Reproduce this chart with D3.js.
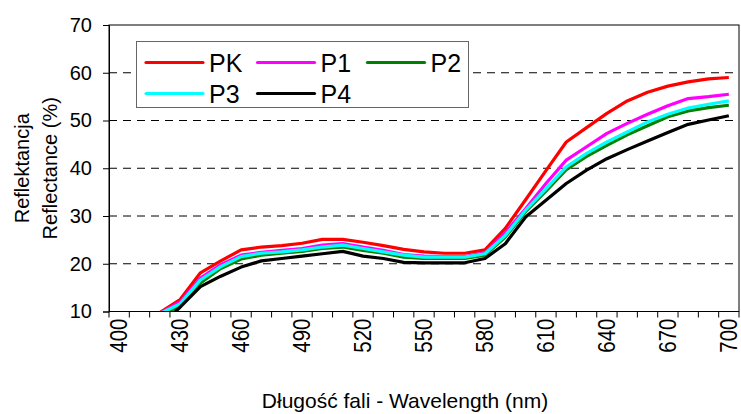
<!DOCTYPE html>
<html><head><meta charset="utf-8">
<script src="https://cdn.jsdelivr.net/npm/d3@7"></script>
<style>body{margin:0;background:#fff}svg{display:block}text{font-family:"Liberation Sans",Arial,sans-serif}</style>
</head><body><svg id="c" width="741" height="414"></svg>
<script>
const wavelengths = [400,410,420,430,440,450,460,470,480,490,500,510,520,530,540,550,560,570,580,590,600,610,620,630,640,650,660,670,680,690,700];
const labelTicks = [400,430,460,490,520,550,580,610,640,670,700];
const yTicks = [10,20,30,40,50,60,70];
const seriesNames = ["PK","P1","P2","P3","P4"];
const seriesColors = ["#ff0000","#ff00ff","#008000","#00ffff","#000000"];
const PK = [7.0,8.2,9.77,12.5,18.1,20.6,22.9,23.5,23.8,24.3,25.1,25.1,24.5,23.8,23.0,22.5,22.2,22.2,22.9,27.4,33.4,39.5,45.5,48.5,51.5,54.1,55.9,57.2,58.1,58.7,59.0];
const P1 = [6.8,8.0,9.62,12.0,17.0,19.8,21.8,22.4,22.8,23.2,23.9,24.2,23.5,22.8,21.9,21.6,21.5,21.5,22.3,26.5,31.5,36.8,41.7,44.5,47.3,49.4,51.3,53.1,54.6,55.0,55.5];
const P2 = [6.5,7.6,9.14,11.2,16.0,19.0,21.0,21.8,22.2,22.6,23.2,23.5,22.8,22.2,21.4,21.1,21.1,21.1,21.8,25.6,30.9,35.2,39.7,42.5,44.8,47.0,48.9,50.8,52.0,52.7,53.2];
const P3 = [6.7,7.9,9.55,11.6,16.6,19.4,21.5,22.2,22.5,22.9,23.5,23.9,23.2,22.5,21.8,21.4,21.4,21.4,22.1,25.9,31.2,35.7,40.3,43.1,45.5,47.6,49.7,51.3,52.6,53.4,54.1];
const P4 = [5.5,6.2,7.0,10.9,15.2,17.4,19.3,20.6,21.1,21.6,22.1,22.6,21.6,21.1,20.3,20.2,20.2,20.2,21.1,24.2,29.8,33.3,36.8,39.6,42.0,43.9,45.7,47.5,49.2,50.1,51.0];
const seriesValues = [PK,P1,P2,P3,P4];

const svg = d3.select("#c");
const L=109, R=739, T=25, B=311.5;
const x = d3.scaleBand().domain(wavelengths).range([L,R]).padding(0);
const bw = x.bandwidth();
const cx = d => x(d)+bw/2;
const y = d3.scaleLinear().domain([10,70]).range([B,T]);

// gridlines
svg.append("g").selectAll("line").data(yTicks.filter(v=>v>10&&v<70)).join("line")
  .attr("x1",L).attr("x2",R).attr("y1",d=>y(d)).attr("y2",d=>y(d))
  .attr("stroke","#000").attr("stroke-width",1).attr("stroke-dasharray","8,6");

// clip
svg.append("clipPath").attr("id","pc").append("rect").attr("x",L).attr("y",T).attr("width",R-L).attr("height",B-T);

const line = d3.line().x((d,i)=>cx(wavelengths[i])).y(d=>y(d));
const lg = svg.append("g").attr("clip-path","url(#pc)");
seriesValues.forEach((vals,k)=>{
  lg.append("path").attr("d",line(vals)).attr("fill","none")
    .attr("stroke",seriesColors[k]).attr("stroke-width",3.2).attr("stroke-linejoin","round");
});

// plot border
svg.append("rect").attr("x",L).attr("y",T).attr("width",R-L).attr("height",B-T)
  .attr("fill","none").attr("stroke","#000").attr("stroke-width",1);

// y axis
const ya = svg.append("g").attr("transform",`translate(${L},0)`)
  .call(d3.axisLeft(y).tickValues(yTicks).tickSize(6).tickPadding(11));
ya.select(".domain").attr("stroke","#000");
ya.selectAll("text").attr("font-size",20).attr("fill","#000").style("font-family","Liberation Sans, Arial, sans-serif");

// x axis boundary ticks
const bounds = wavelengths.map(w=>x(w)).concat([R]);
svg.append("g").selectAll("line").data(bounds).join("line")
  .attr("x1",d=>d).attr("x2",d=>d).attr("y1",B).attr("y2",B+6).attr("stroke","#000");
svg.append("g").selectAll("text").data(labelTicks).join("text")
  .attr("transform",d=>`translate(${cx(d)+8},${B+7}) rotate(-90) scale(1,1.15)`)
  .attr("text-anchor","end").attr("font-size",20.5).text(d=>d);

// axis titles
svg.append("text").attr("x",405).attr("y",408).attr("text-anchor","middle").attr("font-size",21).text("Długość fali - Wavelength (nm)");
const yt = svg.append("text").attr("transform",`translate(29,${(T+B)/2}) rotate(-90)`).attr("text-anchor","middle").attr("font-size",20);
yt.append("tspan").attr("x",0).attr("dy",0).text("Reflektancja");
yt.append("tspan").attr("x",0).attr("dy",28).text("Reflectance (%)");

// legend
const lgX=136.5, lgY=41.5, lgW=332, lgH=66;
const leg = svg.append("g");
leg.append("rect").attr("x",lgX).attr("y",lgY).attr("width",lgW).attr("height",lgH).attr("fill","#fff").attr("stroke","#666").attr("stroke-width",1);
const colX=[146,257.5,367.5], rowY=[62.5,93.5];
seriesNames.forEach((n,i)=>{
  const c=i%3, r=Math.floor(i/3);
  leg.append("line").attr("x1",colX[c]).attr("x2",colX[c]+57).attr("y1",rowY[r]).attr("y2",rowY[r])
    .attr("stroke",seriesColors[i]).attr("stroke-width",3.2).attr("stroke-linecap","round");
  leg.append("text").attr("x",colX[c]+63).attr("y",rowY[r]).attr("dy","0.36em").attr("font-size",25).text(n);
});
</script></body></html>
